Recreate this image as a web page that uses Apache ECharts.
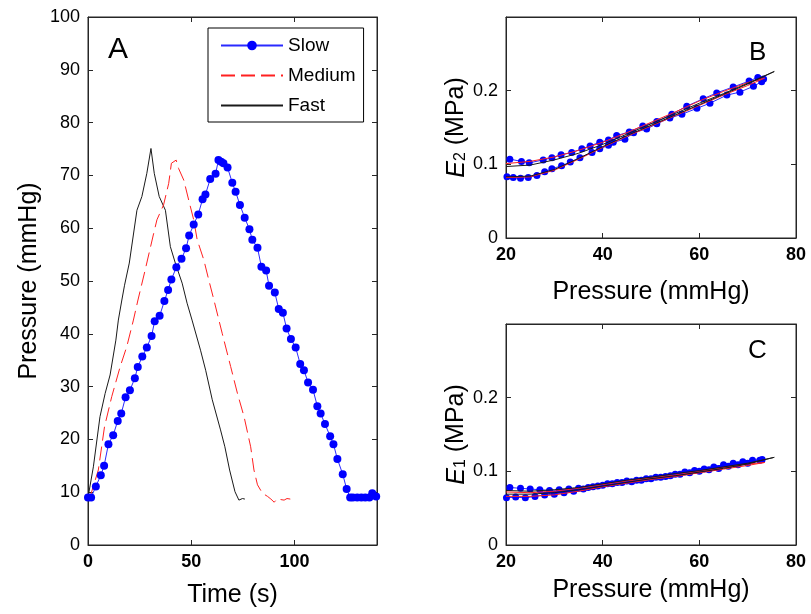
<!DOCTYPE html>
<html>
<head>
<meta charset="utf-8">
<script src="https://cdn.jsdelivr.net/npm/echarts@6/dist/echarts.min.js"></script>
<style>html,body{margin:0;padding:0;background:#fff}#c{width:811px;height:614px}</style>
</head>
<body>
<div id="c"></div>
<script>
// ---- Panel A: pressure vs time ----
var slowT = [0,1.5,3.8,6.2,7.8,9.9,12.2,14.4,16.1,18.2,20.3,22.7,24.1,26.3,28.5,30.8,32.3,34.7,37,38.8,40.4,42.8,45.3,47.5,49,51.2,53.4,55.5,56.9,59.2,61.8,63.2,64.5,65.6,67.6,69.9,71.5,73.6,75.9,78.2,79.6,82.1,84,86.3,87.7,90.5,92.4,94.4,96.2,98.3,100.6,102.8,104.6,106.6,109,111.1,112.7,114.8,117.3,118.9,120.8,123.4,125.3,127,128.3,130.4,132.4,134.3,136.3,137.7,139.6];
var slowP = [9,9,11.1,13.2,15,19.1,20.8,23.5,24.9,28,29.3,31.6,33.7,35.7,37.4,39.6,42.4,43.4,46.2,48.3,50.3,52.6,54.2,56.2,58.6,60.7,62.6,65.5,66.4,69.3,70.3,72.9,72.6,72.3,71.5,68.6,66.9,64.4,62,59.8,57.8,56.3,52.7,52,49.1,47.8,44.7,44,41,39,37.4,34.3,33.1,30.8,29.4,26.3,24.9,22.9,20.6,19.1,16.3,13.4,10.6,9,9,9,9,9,9,9.8,9.2];
var medT = [0,1,5,8,11.5,15.6,18.8,22,24.2,27.7,31.8,33.4,36.6,39.1,40.4,42.7,43.9,46.4,48.8,51.2,52.9,56.1,58.5,61,65,69.1,72.4,75.6,78.8,80.4,82.1,84.5,87,88.6,90.2,91.8,93.4,95,96.4,98];
var medP = [9,9.1,14.2,22.4,28.1,33.8,37.6,42.6,46.4,52.1,59,61.6,64.4,68.5,72.3,72.9,71.3,69.1,65.3,61.6,57.8,54,50.2,46.4,40.1,33.8,28.7,24.3,18.6,14.2,11.4,9.8,9.2,8.7,8.1,8.8,8.6,8.5,8.8,8.7];
var fastT = [0,0.5,2.6,5.8,8.3,10.7,13.5,14.7,16.4,17.7,20,23.7,26.1,28.5,30.5,32.1,34.5,37.5,39.9,42.3,45.6,48,50.4,54.5,57,60.2,64.2,66.3,68.6,71.2,73.1,74.8,76];
var fastP = [9,9.1,14.8,24.3,28.7,32.2,38.8,42.6,46.4,49.2,53.4,63.4,66,70.4,75.1,70.4,66,63.4,56.5,53.4,49.6,45.8,42.6,36.9,33.1,27.5,21.8,18.6,14.2,10.1,8.5,8.8,8.7];

// ---- Panel B: E2 vs pressure (loops) ----
var bSlowP = [20.2,21.5,23,24.6,26.4,28,29.5,31.5,33.3,35.3,37.8,39.4,41.2,42.2,44.6,46.4,49.1,51.2,53.9,56.4,59.5,62.2,65.7,68.4,71.2,72.9,73.3,72.1,70.3,67,63.6,60.8,57.4,54.3,51.2,48.3,45.5,42.9,41.2,39.4,37.4,35.7,33.6,31.4,29.5,27.7,24.8,23.2,20.8];
var bSlowE = [0.083,0.082,0.081,0.082,0.085,0.090,0.094,0.098,0.103,0.109,0.116,0.121,0.126,0.130,0.134,0.143,0.148,0.155,0.163,0.168,0.176,0.183,0.194,0.198,0.206,0.212,0.216,0.218,0.213,0.205,0.197,0.189,0.179,0.168,0.158,0.152,0.144,0.139,0.133,0.130,0.125,0.121,0.116,0.113,0.109,0.106,0.102,0.104,0.107];
var bMedP = [20,25,30,35,40,45,50,55,60,65,70,73.5,73.5,70,65,60,55,50,45,40,35,30,25,20];
var bMedE = [0.082,0.083,0.092,0.107,0.123,0.138,0.152,0.166,0.180,0.194,0.207,0.217,0.219,0.211,0.199,0.186,0.171,0.157,0.143,0.130,0.119,0.110,0.104,0.101];
var bFastP = [20,25,30,35,40,45,50,55,60,65,70,75.5,70,65,60,55,50,45,40,35,30,25,20];
var bFastE = [0.083,0.084,0.093,0.108,0.124,0.139,0.153,0.167,0.181,0.195,0.209,0.226,0.210,0.196,0.183,0.169,0.155,0.141,0.127,0.115,0.106,0.099,0.097];

// ---- Panel C: E1 vs pressure (loops) ----
var cSlowP = [20.1,22,24,26,28,30,32,34,36,38,40,42,44,46,48,50,52,54,56,58,60,62,64,66,68,70,72.5,73,71,69,67,65,63,61,59,57,55,53,51,49,47,45,43,41,39,37,35,33,31,29,27,25,23,20.8];
var cSlowE = [0.064,0.065,0.064,0.066,0.068,0.069,0.071,0.073,0.076,0.079,0.081,0.083,0.085,0.086,0.088,0.090,0.092,0.094,0.096,0.098,0.100,0.102,0.104,0.107,0.109,0.111,0.115,0.116,0.115,0.113,0.111,0.109,0.106,0.103,0.101,0.099,0.096,0.093,0.092,0.090,0.088,0.087,0.085,0.083,0.080,0.078,0.077,0.076,0.075,0.074,0.075,0.076,0.077,0.078];
var cMedP = [20,25,30,35,40,45,50,55,60,65,70,73.5,73.5,70,65,60,55,50,45,40,35,30,25,20];
var cMedE = [0.066,0.066,0.068,0.073,0.079,0.084,0.089,0.093,0.098,0.103,0.108,0.112,0.113,0.110,0.105,0.100,0.095,0.091,0.087,0.082,0.077,0.073,0.071,0.072];
var cFastP = [20,25,30,35,40,45,50,55,60,65,70,75.5,70,65,60,55,50,45,40,35,30,25,20];
var cFastE = [0.069,0.069,0.071,0.075,0.080,0.085,0.090,0.094,0.099,0.104,0.110,0.119,0.111,0.106,0.101,0.097,0.092,0.088,0.083,0.078,0.075,0.073,0.074];

var legendNames = ['Slow','Medium','Fast'];

function zip(a,b){ var r=[]; for(var i=0;i<a.length;i++) r.push([a[i],b[i]]); return r; }

var FONT = "'Liberation Sans', Arial, sans-serif";
var AX = '#262626';
var BLUE = '#2a2aff', RED = '#ff2020', BLACK = '#1a1a1a';

function xAx(grid, min, max, interval, name, gap, bottom, hideMax) {
  return {
    type:'value', gridIndex:grid, min:min, max:max, interval:interval,
    position: bottom ? 'bottom' : 'top',
    name: bottom ? name : '', nameLocation:'middle', nameGap:gap,
    nameTextStyle:{fontFamily:FONT, fontSize:25, color:'#000'},
    axisLine:{show:true, onZero:false, lineStyle:{color:AX, width:1}},
    axisTick:{show:true, inside:true, length:5, lineStyle:{color:AX}},
    axisLabel:{show:bottom, fontFamily:FONT, fontSize:18, fontWeight:'bold', color:'#000', margin:8, showMaxLabel: !hideMax},
    splitLine:{show:false}
  };
}
function yAx(grid, min, max, interval, name, gap, left, hideMax, rich) {
  var o = {
    type:'value', gridIndex:grid, min:min, max:max, interval:interval,
    position: left ? 'left' : 'right',
    name: left ? name : '', nameLocation:'middle', nameGap:gap, nameRotate:90,
    nameTextStyle:{fontFamily:FONT, fontSize:25, color:'#000'},
    axisLine:{show:true, onZero:false, lineStyle:{color:AX, width:1}},
    axisTick:{show:true, inside:true, length:5, lineStyle:{color:AX}},
    axisLabel:{show:left, fontFamily:FONT, fontSize:18, color:'#000', margin:8, showMaxLabel: !hideMax},
    splitLine:{show:false}
  };
  if (rich) o.nameTextStyle.rich = rich;
  return o;
}
var richE = {
  i:{fontFamily:FONT, fontSize:25, fontStyle:'italic', color:'#000', verticalAlign:'bottom', lineHeight:30},
  s:{fontFamily:FONT, fontSize:16, color:'#000', verticalAlign:'bottom', lineHeight:24},
  n:{fontFamily:FONT, fontSize:25, color:'#000', verticalAlign:'bottom', lineHeight:30}
};

var option = {
  backgroundColor:'#fff',
  animation:false,
  grid:[
    {left:88, top:17, width:289, height:528, show:true, borderColor:AX, borderWidth:1, backgroundColor:'transparent'},
    {left:506, top:17, width:290, height:221, show:true, borderColor:AX, borderWidth:1, backgroundColor:'transparent'},
    {left:506, top:324, width:290, height:221, show:true, borderColor:AX, borderWidth:1, backgroundColor:'transparent'}
  ],
  xAxis:[
    xAx(0,0,140,50,'Time (s)',38,true,true),
    xAx(0,0,140,50,'',0,false,true),
    xAx(1,20,80,20,'Pressure (mmHg)',42,true,false),
    xAx(1,20,80,20,'',0,false,false),
    xAx(2,20,80,20,'Pressure (mmHg)',33,true,false),
    xAx(2,20,80,20,'',0,false,false)
  ],
  yAxis:[
    yAx(0,0,100,10,'Pressure (mmHg)',46,true,false),
    yAx(0,0,100,10,'',0,false,false),
    yAx(1,0,0.3,0.1,'{i|E}{s|2}{n| (MPa)}',32,true,true,richE),
    yAx(1,0,0.3,0.1,'',0,false,true),
    yAx(2,0,0.3,0.1,'{i|E}{s|1}{n| (MPa)}',32,true,true,richE),
    yAx(2,0,0.3,0.1,'',0,false,true)
  ],
  legend:{
    data:[
      {name:legendNames[0]},
      {name:legendNames[1], itemStyle:{opacity:0}},
      {name:legendNames[2], itemStyle:{opacity:0}}
    ],
    orient:'vertical', left:208, top:28,
    padding:[7,8,6,12], itemGap:9, itemWidth:62, itemHeight:12,
    backgroundColor:'#fff', borderColor:'#000', borderWidth:1, borderRadius:0,
    textStyle:{fontFamily:FONT, fontSize:19, color:'#000', lineHeight:21}
  },
  graphic:[
    {type:'text', left:108, top:35, style:{text:'A', font:'30px '+FONT, fill:'#000'}},
    {type:'text', left:749, top:40, style:{text:'B', font:'26px '+FONT, fill:'#000'}},
    {type:'text', left:748, top:338, style:{text:'C', font:'26px '+FONT, fill:'#000'}}
  ],
  series:[
    {name:'Fast', type:'line', xAxisIndex:0, yAxisIndex:0, data:zip(fastT,fastP), showSymbol:false, symbol:'none',
      lineStyle:{color:BLACK, width:1}, itemStyle:{color:BLACK}, z:2},
    {name:'Medium', type:'line', xAxisIndex:0, yAxisIndex:0, data:zip(medT,medP), showSymbol:false, symbol:'none',
      lineStyle:{color:RED, width:1, type:[14,6]}, itemStyle:{color:RED}, z:3},
    {name:'Slow', type:'line', xAxisIndex:0, yAxisIndex:0, data:zip(slowT,slowP), symbol:'circle', symbolSize:8,
      lineStyle:{color:BLUE, width:1}, itemStyle:{color:'#0000ff'}, z:4},

    {name:'Slow B', type:'line', xAxisIndex:2, yAxisIndex:2, data:zip(bSlowP,bSlowE), symbol:'circle', symbolSize:7,
      lineStyle:{color:BLUE, width:1}, itemStyle:{color:'#0000ff'}, z:2},
    {name:'Medium B', type:'line', xAxisIndex:2, yAxisIndex:2, data:zip(bMedP,bMedE), symbol:'none',
      lineStyle:{color:RED, width:1}, z:3},
    {name:'Fast B', type:'line', xAxisIndex:2, yAxisIndex:2, data:zip(bFastP,bFastE), symbol:'none',
      lineStyle:{color:BLACK, width:1}, z:4},

    {name:'Slow C', type:'line', xAxisIndex:4, yAxisIndex:4, data:zip(cSlowP,cSlowE), symbol:'circle', symbolSize:7,
      lineStyle:{color:BLUE, width:1}, itemStyle:{color:'#0000ff'}, z:2},
    {name:'Medium C', type:'line', xAxisIndex:4, yAxisIndex:4, data:zip(cMedP,cMedE), symbol:'none',
      lineStyle:{color:RED, width:1}, z:3},
    {name:'Fast C', type:'line', xAxisIndex:4, yAxisIndex:4, data:zip(cFastP,cFastE), symbol:'none',
      lineStyle:{color:BLACK, width:1}, z:4}
  ]
};
var chart = echarts.init(document.getElementById('c'), null, {renderer:'canvas'});
chart.setOption(option);
</script>
</body>
</html>
